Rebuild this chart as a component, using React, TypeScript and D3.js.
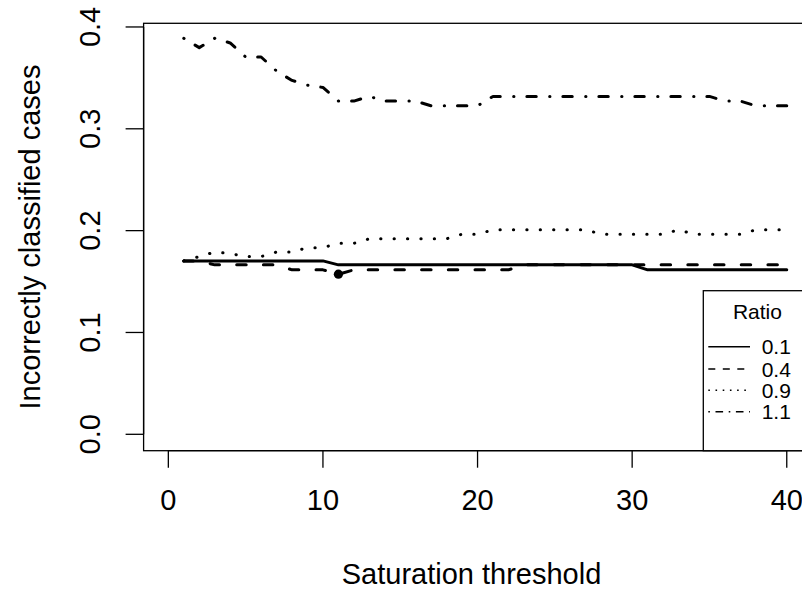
import React from "react";
import * as d3 from "d3";

const thresholds: number[] = d3.range(1, 41);

const ratio01: number[] = [
  0.1703, 0.1703, 0.1703, 0.1703, 0.1703, 0.1703, 0.1703, 0.1703, 0.1703, 0.1703,
  0.1664, 0.1664, 0.1664, 0.1664, 0.1664, 0.1664, 0.1664, 0.1664, 0.1664, 0.1664,
  0.1664, 0.1664, 0.1664, 0.1664, 0.1664, 0.1664, 0.1664, 0.1664, 0.1664, 0.1664,
  0.1615, 0.1615, 0.1615, 0.1615, 0.1615, 0.1615, 0.1615, 0.1615, 0.1615, 0.1615,
];

const ratio04: number[] = [
  0.1703, 0.1703, 0.1664, 0.1664, 0.1664, 0.1664, 0.1664, 0.1615, 0.1615, 0.1615,
  0.1572, 0.1615, 0.1615, 0.1615, 0.1615, 0.1615, 0.1615, 0.1615, 0.1615, 0.1615,
  0.1615, 0.1615, 0.1664, 0.1664, 0.1664, 0.1664, 0.1664, 0.1664, 0.1664, 0.1664,
  0.1664, 0.1664, 0.1664, 0.1664, 0.1664, 0.1664, 0.1664, 0.1664, 0.1664, 0.1664,
];

const ratio09: number[] = [
  0.1703, 0.1745, 0.179, 0.1775, 0.1745, 0.1745, 0.179, 0.179, 0.1833, 0.1833,
  0.1875, 0.1875, 0.192, 0.192, 0.192, 0.192, 0.192, 0.192, 0.1965, 0.1965,
  0.2008, 0.2008, 0.2008, 0.2008, 0.2008, 0.2008, 0.2008, 0.1965, 0.1965, 0.1965,
  0.1965, 0.1965, 0.2008, 0.1965, 0.1965, 0.1965, 0.1965, 0.2008, 0.2008, 0.2008,
];

const ratio11: number[] = [
  0.3889, 0.3797, 0.3889, 0.3843, 0.3705, 0.3705, 0.3567, 0.3475, 0.3429, 0.3406,
  0.3272, 0.3272, 0.3318, 0.3272, 0.3272, 0.3272, 0.3226, 0.3226, 0.3226, 0.3226,
  0.3318, 0.3318, 0.3318, 0.3318, 0.3318, 0.3318, 0.3318, 0.3318, 0.3318, 0.3318,
  0.3318, 0.3318, 0.3318, 0.3318, 0.3318, 0.3272, 0.3272, 0.3226, 0.3226, 0.3226,
];

const seriesLabels: string[] = ["0.1", "0.4", "0.9", "1.1"];
const xTicks: number[] = [0, 10, 20, 30, 40];
const yTicks: number[] = [0.0, 0.1, 0.2, 0.3, 0.4];
const minPoint = { x: 11, y: 0.1572 };

const FONT = "'Liberation Sans', Arial, Helvetica, sans-serif";

export default function App() {
  const W = 802;
  const H = 589;
  const left = 143.6;
  const right = 811.5;
  const top = 23.3;
  const bottom = 450.7;

  const x = d3.scaleLinear().domain([-1.6, 41.6]).range([left, right]);
  const y = d3.scaleLinear().domain([-0.0161, 0.4036]).range([bottom, top]);

  const line = d3
    .line<[number, number]>()
    .x((d) => x(d[0]))
    .y((d) => y(d[1]));

  const allSeries = [ratio01, ratio04, ratio09, ratio11];
  const mainDash = ["none", "9.5 17.2", "0.3 13.1", "0.3 12.9 9.4 13.4"];
  const legendDash = ["none", "7 7.5", "1.6 5.6", "1.6 5.6 7.6 5.6"];

  const legLeft = 703.3;
  const legTop = 290.7;
  const legRight = right;
  const legCx = (legLeft + legRight) / 2;
  const entryY = [346.7, 369.0, 390.3, 411.7];

  return (
    <svg
      width={W}
      height={H}
      style={{ position: "absolute", left: 0, top: 0, background: "#fff" }}
      fontFamily={FONT}
    >
      <rect x={0} y={0} width={W} height={H} fill="#fff" />
      {allSeries.map((s, i) => (
        <path
          key={i}
          d={line(thresholds.map((t, k) => [t, s[k]] as [number, number])) || ""}
          fill="none"
          stroke="#000"
          strokeWidth={3}
          strokeLinecap="round"
          strokeLinejoin="round"
          strokeDasharray={mainDash[i]}
        />
      ))}
      <circle cx={x(minPoint.x)} cy={y(minPoint.y)} r={4.6} fill="#000" />

      <rect
        x={left}
        y={top}
        width={right - left}
        height={bottom - top}
        fill="none"
        stroke="#000"
        strokeWidth={1.3}
      />

      <line x1={x(0)} x2={x(40)} y1={bottom} y2={bottom} stroke="#000" strokeWidth={1.3} />
      {xTicks.map((t) => (
        <g key={t}>
          <line x1={x(t)} x2={x(t)} y1={bottom} y2={bottom + 17} stroke="#000" strokeWidth={1.3} />
          <text x={x(t)} y={510} fontSize={29} textAnchor="middle" fill="#000">
            {t}
          </text>
        </g>
      ))}
      <text x={(left + right) / 2 - 6} y={584} fontSize={29} textAnchor="middle" fill="#000">
        Saturation threshold
      </text>

      <line x1={left} x2={left} y1={y(0)} y2={y(0.4)} stroke="#000" strokeWidth={1.3} />
      {yTicks.map((t) => (
        <g key={t}>
          <line x1={left - 18} x2={left} y1={y(t)} y2={y(t)} stroke="#000" strokeWidth={1.3} />
          <text
            transform={`translate(100,${y(t)}) rotate(-90)`}
            fontSize={29}
            textAnchor="middle"
            fill="#000"
          >
            {t.toFixed(1)}
          </text>
        </g>
      ))}
      <text
        transform={`translate(40,${(top + bottom) / 2}) rotate(-90)`}
        fontSize={29}
        textAnchor="middle"
        fill="#000"
      >
        Incorrectly classified cases
      </text>

      <rect
        x={legLeft}
        y={legTop}
        width={legRight - legLeft}
        height={bottom - legTop}
        fill="#fff"
        stroke="#000"
        strokeWidth={1.3}
      />
      <text x={legCx} y={319} fontSize={21} textAnchor="middle" fill="#000">
        Ratio
      </text>
      {seriesLabels.map((lab, i) => (
        <g key={lab}>
          <line
            x1={708.3}
            x2={750}
            y1={entryY[i]}
            y2={entryY[i]}
            stroke="#000"
            strokeWidth={1.4}
            strokeDasharray={legendDash[i]}
          />
          <text x={761.7} y={entryY[i] + 7.5} fontSize={21} fill="#000">
            {lab}
          </text>
        </g>
      ))}
    </svg>
  );
}
